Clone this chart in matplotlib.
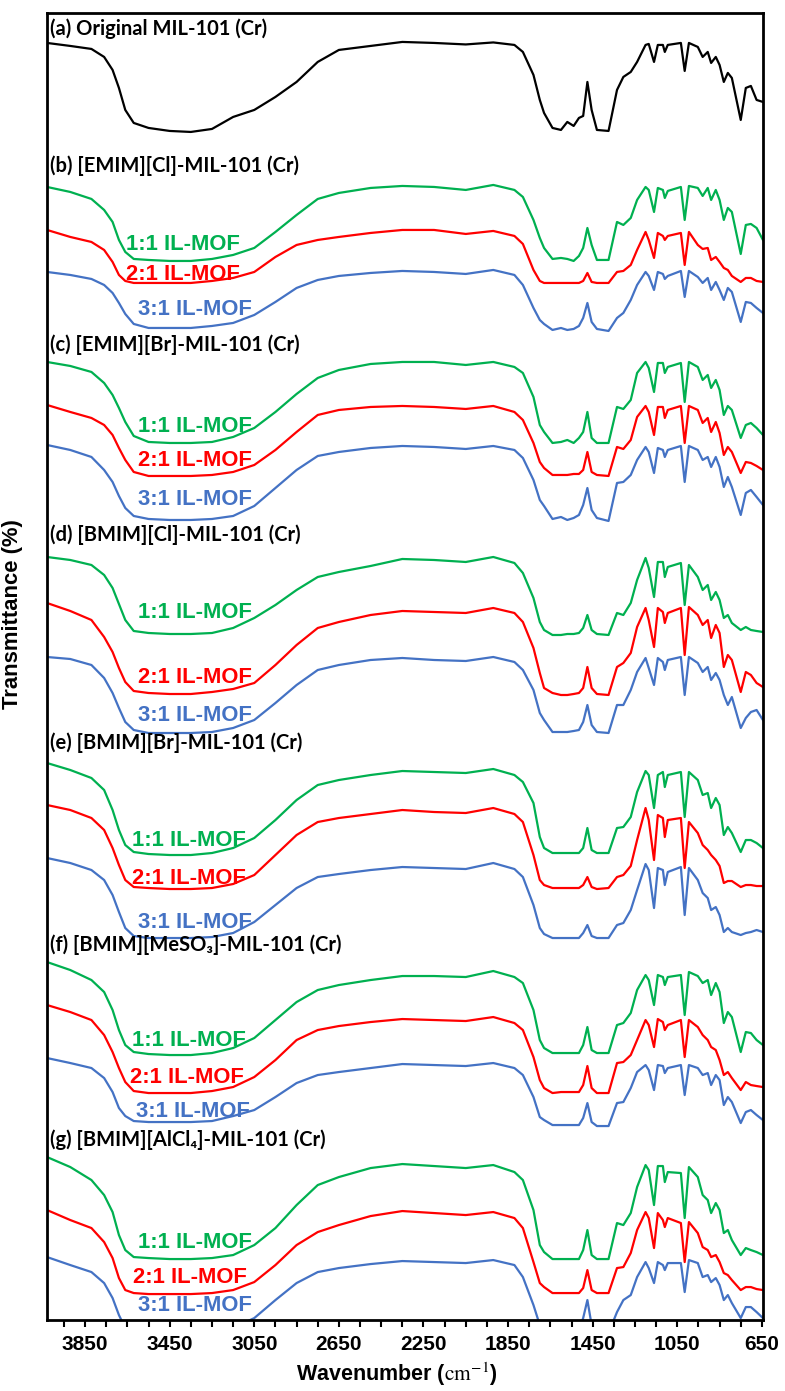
import numpy as np
import matplotlib.pyplot as plt
from matplotlib.ticker import MultipleLocator

# wavenumber grid (cm-1) shared by every spectrum
wn = [4030, 3920, 3820, 3760, 3720, 3690, 3660, 3620, 3550, 3450, 3350, 3250, 3150, 3050,
      2950, 2850, 2750, 2650, 2500, 2350, 2200, 2050, 1920, 1820, 1780, 1730, 1700, 1680,
      1640, 1600, 1570, 1540, 1515, 1495, 1475, 1455, 1430, 1375, 1335, 1305, 1270, 1240,
      1200, 1185, 1160, 1142, 1118, 1109, 1095, 1033, 1015, 995, 953, 930, 906, 890, 868,
      850, 830, 811, 792, 750, 726, 702, 675, 645]

# stacked (offset) transmittance traces, downward = lower T
a_orig = [43, 46, 49, 57, 70, 88, 110, 123, 128, 131, 132, 129, 117, 110, 97, 82, 62, 50, 46, 42,
          43, 44.5, 42.5, 45, 52, 75, 100, 113, 128, 130, 122, 126, 118, 116, 82, 110, 130, 131,
          90, 77, 72, 62, 45, 44, 62, 45, 45, 52, 45, 43, 71, 43, 47, 57, 52, 63, 57, 65, 82, 73,
          78, 120, 88, 86, 100, 102]

b_11 = [187, 192, 199, 210, 222, 240, 252, 259, 260, 261, 261, 259, 255, 248, 232, 215, 199, 193,
        188, 186, 187, 190, 185, 190, 197, 220, 238, 248, 259, 258, 259, 261, 256, 248, 228, 245,
        260, 260, 222, 225, 218, 200, 187, 190, 212, 188, 190, 198, 191, 187, 220, 186, 188, 196,
        188, 200, 190, 200, 220, 208, 212, 254, 225, 224, 228, 240]
b_21 = [230, 237, 242, 250, 262, 275, 281, 283, 283, 283, 283, 281, 278, 272, 257, 245, 240, 237,
        233, 230, 230, 234, 231, 236, 244, 270, 281, 283, 283, 283, 283, 283, 283, 281, 273, 282,
        283, 283, 272, 271, 265, 250, 232, 240, 258, 233, 236, 240, 236, 233, 265, 232, 245, 249,
        248, 260, 257, 262, 268, 270, 276, 282, 278, 278, 281, 282]
b_31 = [272, 275, 279, 285, 293, 303, 314, 324, 328, 328, 328, 326, 323, 315, 302, 288, 280, 276,
        273, 271, 272, 274, 270, 275, 285, 308, 320, 324, 330, 328, 330, 329, 326, 318, 303, 322,
        329, 331, 318, 313, 300, 285, 272, 276, 290, 272, 274, 279, 276, 271, 297, 271, 277, 283,
        278, 290, 282, 290, 300, 288, 292, 322, 302, 303, 308, 313]

c_11 = [362, 366, 372, 383, 395, 408, 422, 436, 442, 443, 443, 442, 437, 428, 412, 394, 378, 370,
        364, 362, 362, 365, 362, 367, 373, 397, 425, 432, 443, 442, 440, 443, 438, 432, 412, 438,
        443, 443, 407, 409, 400, 373, 362, 368, 392, 363, 363, 373, 367, 363, 402, 362, 367, 380,
        375, 388, 380, 390, 415, 406, 410, 438, 425, 423, 428, 435]
c_21 = [405, 412, 418, 425, 435, 448, 460, 472, 476, 476, 476, 475, 472, 465, 450, 432, 415, 410,
        407, 406, 407, 409, 406, 412, 420, 443, 462, 468, 475, 475, 475, 474, 474, 470, 452, 472,
        475, 476, 447, 449, 440, 417, 406, 412, 435, 407, 407, 418, 410, 406, 443, 406, 410, 423,
        418, 432, 422, 433, 455, 447, 452, 473, 462, 463, 466, 470]
c_31 = [445, 450, 457, 470, 482, 496, 508, 516, 519, 520, 520, 519, 516, 506, 488, 470, 456, 452,
        448, 446, 447, 449, 446, 450, 458, 480, 500, 506, 519, 517, 520, 518, 515, 505, 488, 510,
        518, 521, 483, 482, 475, 460, 447, 452, 473, 448, 450, 457, 450, 446, 482, 446, 450, 460,
        457, 467, 457, 467, 487, 477, 487, 515, 493, 490, 497, 505]

d_11 = [557, 560, 565, 575, 588, 604, 620, 631, 633, 634, 634, 633, 628, 618, 605, 590, 577, 572,
        566, 559, 560, 562, 557, 563, 573, 598, 622, 630, 635, 635, 634, 634, 633, 628, 615, 630,
        634, 635, 613, 615, 603, 580, 558, 568, 597, 562, 562, 577, 567, 563, 605, 565, 577, 590,
        585, 600, 592, 600, 618, 615, 623, 630, 627, 630, 631, 632]
d_21 = [603, 611, 620, 637, 652, 668, 682, 691, 693, 694, 694, 692, 689, 683, 665, 645, 628, 622,
        615, 611, 612, 613, 608, 613, 622, 648, 673, 688, 693, 695, 695, 694, 693, 688, 667, 688,
        694, 695, 667, 663, 653, 627, 608, 620, 647, 608, 612, 623, 613, 608, 655, 607, 615, 625,
        620, 638, 625, 633, 667, 655, 660, 692, 672, 675, 683, 687]
d_31 = [657, 659, 665, 678, 693, 708, 722, 730, 733, 733, 733, 732, 728, 720, 703, 685, 670, 665,
        660, 658, 660, 661, 657, 662, 670, 690, 713, 720, 732, 732, 732, 731, 730, 722, 705, 725,
        732, 733, 705, 705, 690, 672, 658, 668, 685, 658, 662, 670, 660, 657, 695, 657, 663, 672,
        667, 680, 673, 680, 695, 705, 697, 728, 718, 712, 710, 720]

e_11 = [763, 770, 778, 790, 810, 830, 845, 852, 854, 855, 855, 853, 848, 838, 820, 800, 785, 780,
        775, 771, 772, 773, 769, 775, 782, 803, 837, 848, 853, 853, 853, 853, 853, 848, 828, 850,
        853, 853, 828, 827, 817, 792, 771, 775, 808, 775, 772, 787, 775, 772, 817, 772, 780, 795,
        793, 808, 798, 805, 835, 827, 833, 852, 840, 840, 843, 848]
e_21 = [805, 810, 818, 830, 848, 865, 880, 887, 888, 889, 889, 888, 884, 875, 855, 835, 822, 818,
        814, 810, 812, 813, 808, 814, 822, 855, 880, 885, 888, 888, 888, 888, 888, 885, 877, 887,
        889, 888, 877, 875, 866, 840, 808, 820, 860, 815, 818, 837, 820, 818, 868, 822, 833, 845,
        850, 855, 860, 866, 883, 881, 881, 887, 885, 885, 886, 886]
e_31 = [858, 863, 870, 880, 895, 912, 928, 936, 938, 938, 938, 937, 933, 922, 905, 888, 877, 874,
        870, 867, 868, 869, 863, 869, 877, 905, 928, 934, 938, 938, 938, 938, 938, 933, 925, 936,
        938, 938, 925, 923, 910, 890, 864, 870, 908, 868, 870, 885, 872, 867, 915, 868, 880, 893,
        898, 910, 907, 915, 932, 928, 932, 935, 933, 932, 930, 932]

f_11 = [962, 970, 980, 992, 1010, 1030, 1045, 1052, 1054, 1055, 1055, 1053, 1048, 1038, 1020, 1002,
        990, 985, 980, 976, 976, 977, 971, 977, 983, 1010, 1040, 1048, 1053, 1053, 1053, 1053, 1053,
        1045, 1027, 1050, 1053, 1053, 1025, 1023, 1013, 990, 975, 980, 1005, 975, 977, 985, 977, 975,
        1015, 972, 976, 983, 980, 995, 983, 992, 1023, 1012, 1017, 1052, 1032, 1033, 1040, 1045]
f_21 = [1005, 1012, 1020, 1035, 1052, 1068, 1082, 1091, 1093, 1093, 1093, 1091, 1087, 1077, 1060,
        1040, 1030, 1026, 1022, 1019, 1020, 1021, 1017, 1023, 1030, 1057, 1080, 1088, 1093, 1092,
        1092, 1092, 1092, 1085, 1066, 1088, 1093, 1093, 1063, 1062, 1055, 1040, 1020, 1025, 1047,
        1019, 1022, 1030, 1025, 1020, 1057, 1020, 1027, 1035, 1040, 1047, 1050, 1060, 1075, 1072,
        1078, 1090, 1082, 1085, 1086, 1087]
f_31 = [1058, 1063, 1068, 1078, 1092, 1108, 1116, 1121, 1122, 1122, 1122, 1121, 1116, 1110, 1097,
        1083, 1075, 1072, 1068, 1064, 1065, 1066, 1063, 1068, 1075, 1097, 1117, 1120, 1125, 1125,
        1125, 1125, 1125, 1118, 1103, 1122, 1126, 1126, 1103, 1102, 1088, 1072, 1065, 1070, 1090,
        1065, 1066, 1073, 1068, 1065, 1095, 1065, 1068, 1075, 1073, 1085, 1075, 1080, 1105, 1097,
        1102, 1123, 1112, 1110, 1115, 1120]

g_11 = [1157, 1167, 1180, 1195, 1212, 1235, 1250, 1257, 1258, 1259, 1259, 1258, 1255, 1245, 1228,
        1205, 1185, 1177, 1168, 1164, 1166, 1168, 1165, 1172, 1180, 1210, 1245, 1252, 1259, 1259,
        1259, 1259, 1259, 1250, 1230, 1255, 1259, 1259, 1223, 1225, 1213, 1187, 1165, 1170, 1205,
        1166, 1166, 1182, 1172, 1173, 1218, 1167, 1177, 1195, 1200, 1213, 1203, 1210, 1233, 1230,
        1240, 1255, 1248, 1250, 1252, 1255]
g_21 = [1210, 1220, 1228, 1242, 1258, 1278, 1290, 1293, 1294, 1294, 1294, 1293, 1290, 1282, 1265,
        1245, 1232, 1225, 1216, 1211, 1213, 1215, 1212, 1218, 1228, 1262, 1283, 1287, 1293, 1293,
        1293, 1293, 1293, 1288, 1270, 1290, 1293, 1293, 1268, 1267, 1253, 1230, 1212, 1218, 1248,
        1213, 1220, 1227, 1218, 1223, 1262, 1222, 1233, 1247, 1250, 1257, 1255, 1262, 1273, 1275,
        1280, 1290, 1287, 1287, 1289, 1290]
g_31 = [1257, 1265, 1272, 1283, 1298, 1315, 1328, 1332, 1333, 1333, 1333, 1332, 1328, 1318, 1300,
        1283, 1272, 1268, 1264, 1261, 1262, 1263, 1260, 1265, 1277, 1305, 1325, 1330, 1333, 1333,
        1333, 1333, 1330, 1318, 1300, 1325, 1333, 1333, 1312, 1300, 1295, 1277, 1262, 1268, 1283,
        1262, 1265, 1270, 1263, 1263, 1292, 1260, 1263, 1277, 1275, 1282, 1278, 1285, 1300, 1295,
        1303, 1318, 1307, 1307, 1312, 1318]

panel_titles = ["(a) Original MIL-101 (Cr)", "(b) [EMIM][Cl]-MIL-101 (Cr)",
                "(c) [EMIM][Br]-MIL-101 (Cr)", "(d) [BMIM][Cl]-MIL-101 (Cr)",
                "(e) [BMIM][Br]-MIL-101 (Cr)", "(f) [BMIM][MeSO₃]-MIL-101 (Cr)",
                "(g) [BMIM][AlCl₄]-MIL-101 (Cr)"]
title_y = [29, 166, 345, 535, 743, 945, 1140]
ratios = ["1:1 IL-MOF", "2:1 IL-MOF", "3:1 IL-MOF"]
ratio_y = [[245, 275, 310], [427, 461, 500], [613, 678, 715], [840, 878, 922],
           [1040, 1077, 1111], [1242, 1277, 1305]]
ratio_x = [[3386, 3386, 3329], [3329, 3329, 3329], [3329, 3329, 3329], [3360, 3360, 3329],
           [3360, 3370, 3340], [3329, 3353, 3329]]

groups = [(b_11, b_21, b_31), (c_11, c_21, c_31), (d_11, d_21, d_31),
          (e_11, e_21, e_31), (f_11, f_21, f_31), (g_11, g_21, g_31)]
colors = ["#00B050", "#FF0000", "#4472C4"]

plt.rcParams["font.family"] = ["Liberation Sans", "DejaVu Sans"]
plt.rcParams["mathtext.fontset"] = "stix"

fig = plt.figure(figsize=(7.85, 13.91), dpi=100)
ax = fig.add_axes([0.0599, 0.051, 0.912, 0.9397])

ax.plot(wn, a_orig, color="black", lw=1.6)
for gi, grp in enumerate(groups):
    for k, vals in enumerate(grp):
        ax.plot(wn, vals, color=colors[k], lw=1.6)
        ax.text(ratio_x[gi][k], ratio_y[gi][k], ratios[k], color=colors[k],
                fontsize=15.8, fontweight="bold", ha="center", va="center")

for t, y in zip(panel_titles, title_y):
    ax.text(4016, y, t, fontsize=14.5, fontweight="bold", family=["Lato", "DejaVu Sans"],
            ha="left", va="center")

ax.set_xlim(4030, 645)
ax.set_ylim(1320, 13)
ax.xaxis.set_major_locator(MultipleLocator(400, offset=250))
ax.xaxis.set_minor_locator(MultipleLocator(100, offset=50))
ax.set_yticks([])
ax.tick_params(axis="x", which="both", direction="out", length=5, width=1.5,
               labelsize=15, pad=6)
for lab in ax.get_xticklabels():
    lab.set_fontweight("bold")
for s in ax.spines.values():
    s.set_linewidth(2)

ax.set_xlabel(r"Wavenumber ($\mathrm{cm^{-1}}$)", fontsize=15.5, fontweight="bold")
ax.xaxis.set_label_coords(0.489, -0.031)
ax.set_ylabel("Transmittance (%)", fontsize=15.8, fontweight="bold")
ax.yaxis.set_label_coords(-0.034, 0.54)

fig.savefig("out.png", dpi=100)
